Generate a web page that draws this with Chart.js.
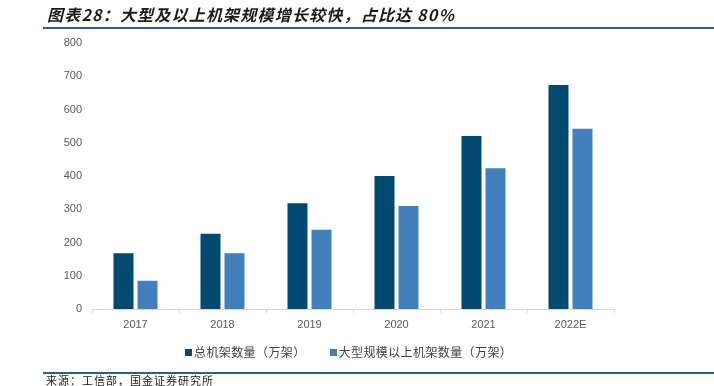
<!DOCTYPE html>
<html>
<head>
<meta charset="utf-8">
<script src="https://cdn.jsdelivr.net/npm/chart.js@4/dist/chart.umd.min.js"></script>
<style>
  html, body { margin: 0; padding: 0; background: #ffffff; }
  #wrap { position: relative; width: 714px; height: 386px; overflow: hidden; font-family: "Noto Sans CJK SC", "Liberation Sans", sans-serif; }
  #c { position: absolute; left: 0; top: 0; }
  #title { position: absolute; left: 47px; top: 3px; font-size: 16px; font-weight: bold; font-style: italic; letter-spacing: 1.2px; color: #1a1a1a; white-space: nowrap; line-height: 22px; }
  .rule { position: absolute; left: 43px; width: 671px; height: 2px; background: #2a5f8c; }
  #legend { position: absolute; top: 343px; left: 185px; font-size: 12px; letter-spacing: 0.4px; color: #404040; white-space: nowrap; line-height: 18px; }
  #legend span.item { display: inline-block; margin-right: 24px; }
  #legend span.sw { display: inline-block; width: 7px; height: 7px; margin-right: 2px; vertical-align: 1px; }
  #source { position: absolute; left: 46px; top: 374px; font-size: 11px; letter-spacing: 1px; color: #1a1a1a; white-space: nowrap; line-height: 13px; }
</style>
</head>
<body>
<div id="wrap">
  <canvas id="c" width="714" height="386"></canvas>
  <div id="title">图表28：大型及以上机架规模增长较快，占比达 80%</div>
  <div class="rule" style="top:27px"></div>
  <div id="legend"></div>
  <div class="rule" style="top:372px; height:1.5px"></div>
  <div id="source">来源：工信部，国金证券研究所</div>
</div>
<script>
const categories = ["2017", "2018", "2019", "2020", "2021", "2022E"];
const seriesNames = ["总机架数量（万架）", "大型规模以上机架数量（万架）"];
const totalRacks = [168, 226, 318, 400, 520, 674];
const largeRacks = [85, 168, 238, 310, 423, 542];
const yTicks = [0, 100, 200, 300, 400, 500, 600, 700, 800];
const colors = ["#034a71", "#4280bd"];

const legend = document.getElementById('legend');
seriesNames.forEach((n, i) => {
  const it = document.createElement('span');
  it.className = 'item';
  const sw = document.createElement('span');
  sw.className = 'sw';
  sw.style.background = colors[i];
  it.appendChild(sw);
  it.appendChild(document.createTextNode(n));
  legend.appendChild(it);
});

new Chart(document.getElementById('c'), {
  type: 'bar',
  data: {
    labels: categories,
    datasets: [
      { label: seriesNames[0], data: totalRacks, backgroundColor: colors[0], barPercentage: 0.833, categoryPercentage: 0.552 },
      { label: seriesNames[1], data: largeRacks, backgroundColor: colors[1], barPercentage: 0.833, categoryPercentage: 0.552 }
    ]
  },
  options: {
    responsive: false,
    animation: false,
    devicePixelRatio: 1,
    layout: { padding: { left: 0, right: 100, top: 43, bottom: 0 } },
    plugins: { legend: { display: false }, tooltip: { enabled: false }, title: { display: false } },
    scales: {
      x: {
        grid: { display: true, drawOnChartArea: false, drawTicks: true, tickLength: 4, color: '#d9d9d9', offset: true },
        border: { display: true, color: '#d9d9d9', width: 1 },
        ticks: { color: '#595959', font: { family: 'Liberation Sans', size: 11 }, padding: 5, maxRotation: 0 },
        afterFit: s => { s.height = 77; }
      },
      y: {
        min: 0, max: 800,
        afterBuildTicks: s => { s.ticks = yTicks.map(v => ({ value: v })); },
        grid: { display: false, drawTicks: false },
        border: { display: false },
        ticks: { color: '#595959', font: { family: 'Liberation Sans', size: 11 }, padding: 10 },
        afterFit: s => { s.width = 92; }
      }
    }
  }
});
</script>
</body>
</html>
